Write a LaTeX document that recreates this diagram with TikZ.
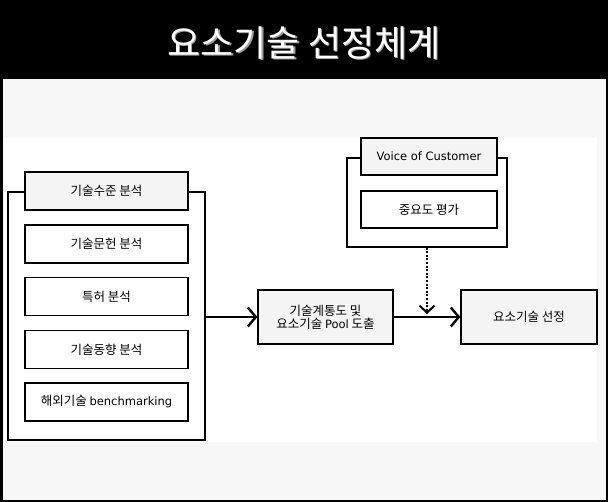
\documentclass[tikz,border=0pt]{standalone}
\usepackage{fontspec}
\setmainfont{Noto Sans CJK KR}
\newfontfamily\latf{DejaVu Sans}
\usetikzlibrary{arrows.meta}
\definecolor{bgrey}{HTML}{F7F7F7}
\definecolor{hdrgrey}{HTML}{F4F4F4}
\tikzset{
  box/.style={draw=black, line width=1.2pt, fill=white, minimum width=163pt, minimum height=38pt, inner sep=0pt, font=\fontsize{12.5}{14}\selectfont},
  hbox/.style={box, fill=hdrgrey},
  grp/.style={draw=black, line width=1.2pt, fill=white, inner sep=0pt},
  flow/.style={line width=2.6pt, -{Straight Barb[length=8pt, width=19pt, line width=2.4pt]}},
  dotflow/.style={line width=2.8pt, dash pattern=on 2pt off 1.6pt, -{Straight Barb[length=7pt, width=15pt, line width=2pt]}}
}
\begin{document}
\begin{tikzpicture}[x=1pt, y=-1pt]
\useasboundingbox (0,0) rectangle (608,502);
% background and frame
\fill[bgrey] (0,0) rectangle (608,502);
\fill[white] (4,138) rectangle (597,442);
\fill[black] (0,0) rectangle (608,79);
\draw[black, line width=2.5pt] (1.25,1.25) rectangle (606.75,500.75);
% title
\node[text=gray!75, font=\fontsize{36}{40}\selectfont] at (305.5,44.5) {요소기술 선정체계};
\node[text=white, font=\fontsize{36}{40}\selectfont] (title) at (304,43) {요소기술 선정체계};
% left group
\node[grp, minimum width=197pt, minimum height=248pt] (lgrp) at (106.5,316) {};
\node[hbox] (lhead) at (106.5,191) {기술수준 분석};
\node[box] (b1) at (106.5,244) {기술문헌 분석};
\node[box] (b2) at (106.5,296.5) {특허 분석};
\node[box] (b3) at (106.5,349.5) {기술동향 분석};
\node[box] (b4) at (106.5,402) {해외기술 {\latf\fontsize{11.5}{14}\selectfont benchmarking}};
% VoC group
\node[grp, minimum width=160pt, minimum height=89pt] (vgrp) at (427,202.5) {};
\node[hbox, minimum width=136pt, minimum height=37pt] (vhead) at (429,156.5) {\latf\fontsize{11.5}{14}\selectfont Voice of Customer};
\node[box, minimum width=136pt, minimum height=37pt] (vimp) at (429,209.5) {중요도 평가};
% main boxes
\node[hbox, minimum width=135pt, minimum height=54pt, align=center] (pool) at (325.5,317) {기술계통도 및\\[-1pt]요소기술 {\latf\fontsize{11.5}{14}\selectfont Pool} 도출};
\node[hbox, minimum width=136pt, minimum height=54pt] (sel) at (529,317) {요소기술 선정};
% connectors
\draw[flow] (lgrp.east |- pool.west) -- (pool.west);
\draw[flow] (pool.east) -- (sel.west);
\coordinate (j) at (vgrp.south |- pool.east);
\draw[dotflow, shorten >=3pt] (vgrp.south) -- (j);
\end{tikzpicture}
\end{document}
